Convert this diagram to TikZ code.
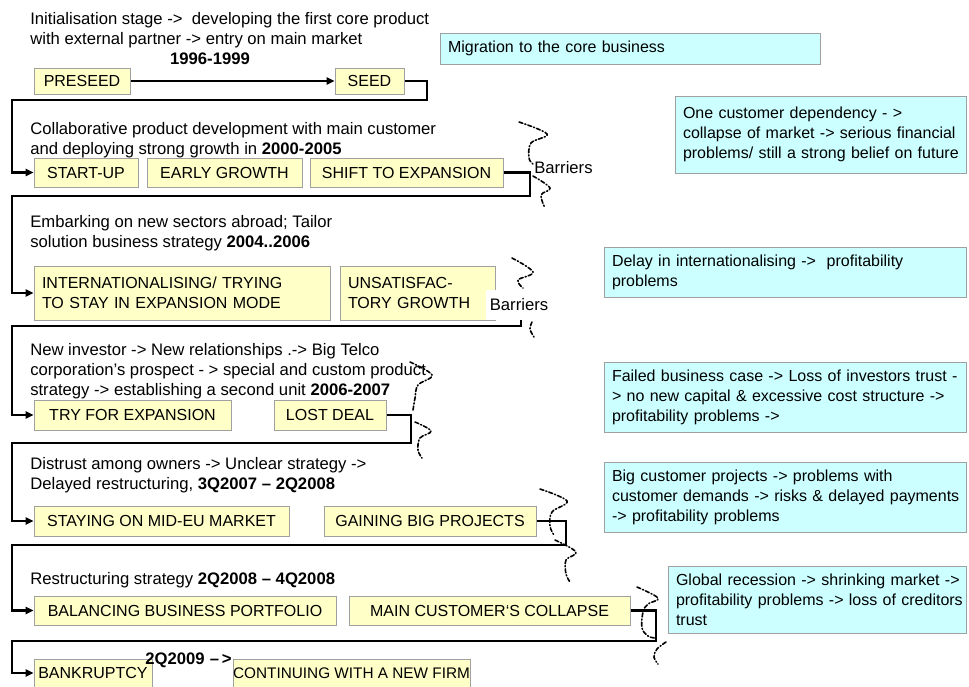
\documentclass[tikz,border=0pt]{standalone}
\usepackage{fontspec}
\setmainfont{Liberation Sans}
\usetikzlibrary{arrows.meta}
\definecolor{stagefill}{RGB}{255,255,200}
\definecolor{notefill}{RGB}{204,255,255}
\definecolor{rimgray}{RGB}{160,160,160}
\begin{document}
\begin{tikzpicture}[x=0.75pt,y=-0.75pt,
  every node/.style={font=\fontsize{12.5}{15}\selectfont, inner sep=0pt},
  sz/.style 2 args={minimum width=#1*0.75pt, minimum height=#2*0.75pt},
  stage/.style={draw=rimgray, fill=stagefill, line width=0.75pt, font=\fontsize{12}{15}\selectfont},
  stagel/.style={stage, inner xsep=6pt, align=left},
  note/.style={draw=rimgray, fill=notefill, line width=0.75pt, inner xsep=6pt, align=left, font=\fontsize{12}{15}\selectfont},
  story/.style={anchor=north west, align=left},
  yearmark/.style={font=\fontsize{12.5}{15}\selectfont\bfseries},
  flow/.style={line width=2pt},
  tip/.style={-{Triangle[length=6pt,width=5.5pt]}},
  crack/.style={line width=1.2pt, line cap=round, dash pattern=on 3pt off 1.6pt on 0.8pt off 1.6pt},
]
\useasboundingbox (0,0) rectangle (969,686);

% ---------- stage 1996-1999 ----------
\node[story] (s1) at (30,12) {Initialisation stage ->\ \ developing the first core product\\with external partner -> entry on main market};
\node[yearmark] (y1) at (210,59) {1996-1999};
\node[stage, sz={96}{26}] (preseed) at (82,81) {PRESEED};
\node[stage, sz={69}{26}] (seed) at (369.5,81) {SEED};
\node[note, minimum width=285pt, minimum height=23.25pt, text width=273pt] (migration) at (630,48.5) {Migration to the core business};

% ---------- stage 2000-2005 ----------
\node[story] (s2) at (30,122) {Collaborative product development with main customer\\and deploying strong growth in \textbf{2000-2005}};
\node[stage, sz={104}{29}] (startup) at (86,172.5) {START-UP};
\node[stage, sz={155}{29}] (early) at (224.5,172.5) {EARLY GROWTH};
\node[stage, sz={193}{29}] (shift) at (406.5,172.5) {SHIFT TO EXPANSION};
\node[note, minimum width=218.25pt, minimum height=57.75pt, text width=206.25pt] (onecust) at (820.5,134.5)
  {\mbox{One customer dependency - >}\\\mbox{collapse of market -> serious financial}\\\mbox{problems/ still a strong belief on future}};

% ---------- stage 2004..2006 ----------
\node[story] (s3) at (30,215) {Embarking on new sectors abroad; Tailor\\solution business strategy \textbf{2004..2006}};
\node[stagel, minimum width=222pt, minimum height=40.5pt, text width=210pt] (intl) at (182,293)
  {INTERNATIONALISING/ TRYING\\TO STAY IN EXPANSION MODE};
\node[stagel, minimum width=116.25pt, minimum height=40.5pt, text width=104.25pt] (unsat) at (417.5,293)
  {UNSATISFAC-\\TORY GROWTH};
\node[note, minimum width=271.5pt, minimum height=37.5pt, text width=259.5pt] (delay) at (785,272)
  {Delay in internationalising ->\ \ profitability\\problems};

% ---------- stage 2006-2007 ----------
\node[story] (s4) at (30,343) {New investor -> New relationships .-> Big Telco\\corporation’s prospect - > special and custom product\\strategy -> establishing a second unit \textbf{2006-2007}};
\node[stage, sz={197}{30}] (try) at (132.5,415) {TRY FOR EXPANSION};
\node[stage, sz={112}{30}] (lost) at (330,415) {LOST DEAL};
\node[note, minimum width=271.5pt, minimum height=52.5pt, text width=259.5pt] (failed) at (785,397)
  {\mbox{Failed business case -> Loss of investors trust -}\\\mbox{> no new capital \& excessive cost structure ->}\\profitability problems ->};

% ---------- stage 3Q2007 - 2Q2008 ----------
\node[story] (s5) at (30,457) {Distrust among owners -> Unclear strategy ->\\Delayed restructuring, \textbf{3Q2007 – 2Q2008}};
\node[stage, sz={255}{30}] (staying) at (161.5,521) {STAYING ON MID-EU MARKET};
\node[stage, sz={212}{30}] (gaining) at (430,521) {GAINING BIG PROJECTS};
\node[note, minimum width=271.5pt, minimum height=52.5pt, text width=259.5pt] (bigcust) at (785,497)
  {\mbox{Big customer projects -> problems with}\\\mbox{customer demands -> risks \& delayed payments}\\-> profitability problems};

% ---------- stage 2Q2008 - 4Q2008 ----------
\node[story] (s6) at (30,572) {Restructuring strategy \textbf{2Q2008 – 4Q2008}};
\node[stage, sz={302}{29}] (balancing) at (185,610.5) {BALANCING BUSINESS PORTFOLIO};
\node[stage, sz={281}{29}] (maincust) at (489.5,610.5) {MAIN CUSTOMER‘S COLLAPSE};
\node[note, minimum width=223.5pt, minimum height=50.25pt, text width=211.5pt] (global) at (817,599.5)
  {\mbox{Global recession -> shrinking market ->}\\\mbox{profitability problems -> loss of creditors}\\trust};

% ---------- 2Q2009 ----------
\node[stage, sz={118}{28}] (bankruptcy) at (93,673) {BANKRUPTCY};
\node[stage, sz={237}{28}, font=\fontsize{11.5}{15}\selectfont] (continuing) at (351.5,673) {CONTINUING WITH A NEW FIRM};

% ---------- turning points of the main flow ----------
\coordinate (r1) at (427,100);  \coordinate (l1) at (12,100);
\coordinate (r2) at (530,196);  \coordinate (l2) at (12,196);
\coordinate (r3) at (521,326);  \coordinate (l3) at (12,326);
\coordinate (r4) at (411,443);  \coordinate (l4) at (12,443);
\coordinate (r5) at (566,545);  \coordinate (l5) at (12,545);
\coordinate (r6) at (656,641);  \coordinate (l6) at (12,641);

% ---------- main flow ----------
\draw[flow, tip] (preseed.east) -- (seed.west);
\draw[flow, tip] (seed.east) -| (r1) -- (l1) |- (startup.west);
\draw[flow, tip] (shift.east) -| (r2) -- (l2) |- (intl.west);
\draw[flow, tip] (unsat.east) -| (r3) -- (l3) |- (try.west);
\draw[flow, tip] (lost.east) -| (r4) -- (l4) |- (staying.west);
\draw[flow, tip] (gaining.east) -| (r5) -- (l5) |- (balancing.west);
\draw[flow, tip] (maincust.east) -| (r6) -- (l6) |- (bankruptcy.west);

% ---------- barrier cracks ----------
\draw[crack] plot[smooth, tension=0.6] coordinates {(519,122) (547,134) (531,143) (529,158) (533,164)};
\draw[crack] plot[smooth, tension=0.6] coordinates {(533,176) (550,188) (541,195) (545,208)};
\draw[crack] plot[smooth, tension=0.6] coordinates {(512,258) (533,272) (518,280) (523,288)};
\draw[crack] plot[smooth, tension=0.6] coordinates {(532,322) (530,329) (534,337)};
\draw[crack] plot[smooth, tension=0.6] coordinates {(410,362) (432,375) (418,385) (415,398) (413,410)};
\draw[crack] plot[smooth, tension=0.6] coordinates {(415,422) (431,431) (420,438) (418,450) (422,458)};
\draw[crack] plot[smooth, tension=0.6] coordinates {(540,489) (567,501) (552,512) (550,526) (554,535)};
\draw[crack] plot[smooth, tension=0.6] coordinates {(555,540) (576,552) (566,560) (566,574) (570,582)};
\draw[crack] plot[smooth, tension=0.6] coordinates {(637,587) (658,598) (648,604) (643,612) (642,628) (648,636) (655,638)};
\draw[crack] plot[smooth, tension=0.6] coordinates {(666,642) (657,649) (654,657) (658,664)};

% ---------- labels ----------
\node[anchor=west] (bar1) at (534,168) {Barriers};
\node[fill=white, sz={66}{30}] (bar2) at (519,305) {Barriers};
\node[anchor=west, yearmark] (y7) at (145,660) {2Q2009\hspace{4pt}–\hspace{2pt}>};
\end{tikzpicture}
\end{document}
